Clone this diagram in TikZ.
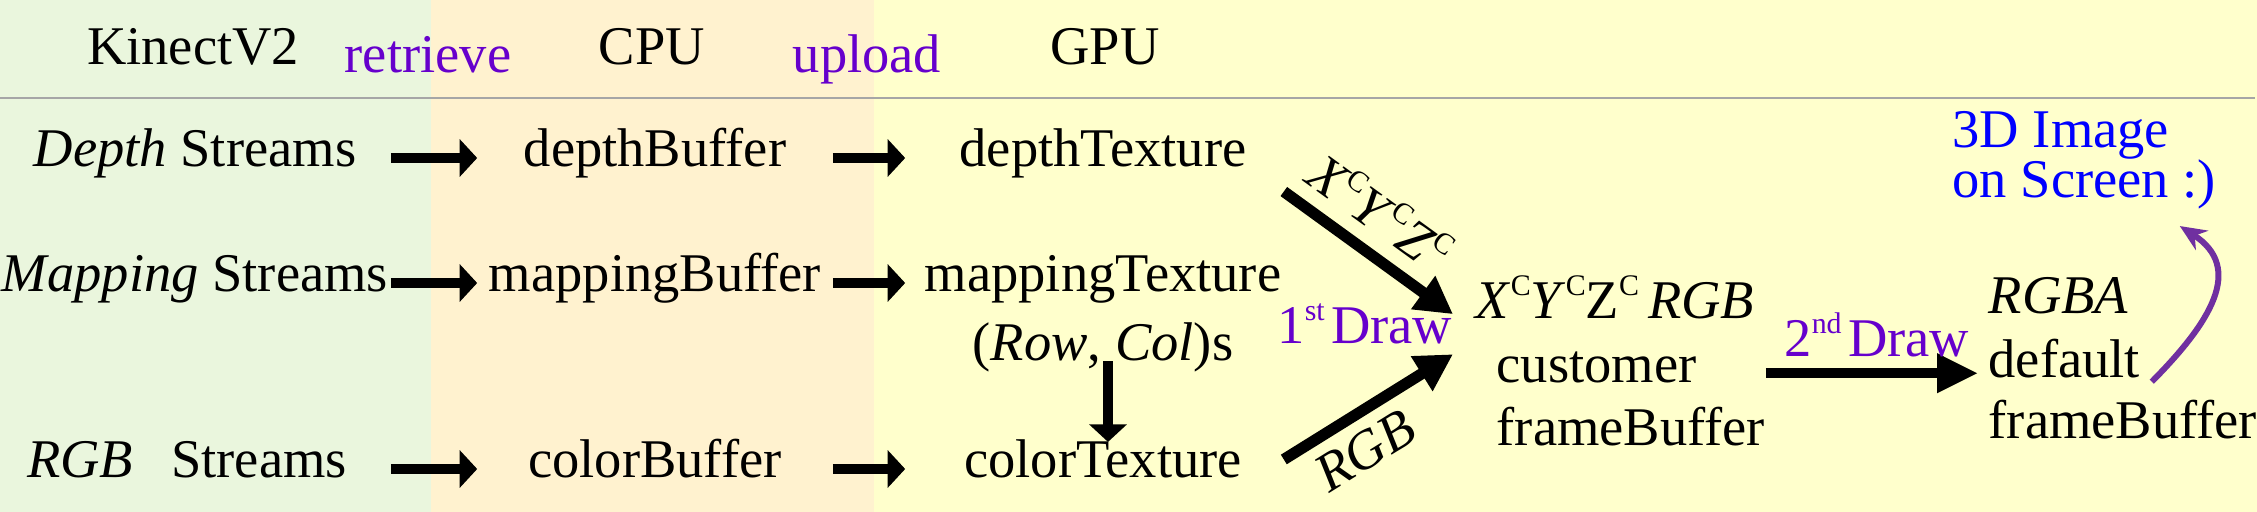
\documentclass[tikz,border=0pt]{standalone}
\usepackage{fontspec}
\setmainfont{Liberation Serif}
\usetikzlibrary{arrows.meta}
\definecolor{kinectgreen}{HTML}{EAF6DD}
\definecolor{cpuorange}{HTML}{FFF2CF}
\definecolor{gpuyellow}{HTML}{FFFFCC}
\definecolor{steppurple}{HTML}{6600CC}
\definecolor{curvepurple}{HTML}{7030A0}
\newcommand{\upx}[1]{\raisebox{0.42em}{\fontsize{8.5}{9}\selectfont #1}}
\newcommand{\xyzc}[1]{\textit{X}\upx{C}\textit{Y}\upx{C}#1\upx{C}}

\begin{document}
\begin{tikzpicture}[x=0.01cm, y=-0.01cm, font=\fontsize{15.5}{18}\selectfont]
\tikzstyle{txt}=[inner sep=0pt, text height=0.7em, text depth=0.2em]
\tikzstyle{streamcol}=[txt, minimum width=3.9cm]
\tikzstyle{buffercol}=[txt, minimum width=3.54cm]
\tikzstyle{texturecol}=[txt, minimum width=3.94cm]
\tikzstyle{stage}=[txt, text=steppurple]
\tikzstyle{push}=[-{Triangle[length=5pt,width=10.5pt]}, line width=2.85pt]
\tikzstyle{bigpush}=[-{Triangle[length=10.5pt,width=11pt]}, line width=3.2pt]

\useasboundingbox (0,0) rectangle (2257,512);
% device bands
\fill[kinectgreen] (0,0) rectangle (431,512);
\fill[cpuorange] (431,0) rectangle (874,512);
\fill[gpuyellow] (874,0) rectangle (2257,512);
\draw[line width=0.85pt, black!35] (0,98) -- (2255,98);

% header
\node[txt] (kin) at (193,56) {KinectV2};
\node[stage] (ret) at (428,64) {retrieve};
\node[txt] (cpu) at (652,56) {CPU};
\node[stage] (upl) at (867,64) {upload};
\node[txt] (gpu) at (1105,56) {GPU};

% streams, buffers, textures
\node[streamcol] (dstr) at (195,158) {\textit{Depth} Streams};
\node[streamcol] (mstr) at (195,283) {\textit{Mapping} Streams};
\node[streamcol] (rstr) at (187,469) {\textit{RGB}\hspace{0.7em}Streams};
\node[buffercol] (dbuf) at (655,158) {depthBuffer};
\node[buffercol] (mbuf) at (655,283) {mappingBuffer};
\node[buffercol] (cbuf) at (655,469) {colorBuffer};
\node[texturecol] (dtex) at (1103,158) {depthTexture};
\node[texturecol] (mtex) at (1103,283) {mappingTexture};
\node[texturecol] (ctex) at (1103,469) {colorTexture};
\node[txt] (rc) at (1103,352) {(\textit{Row}, \textit{Col})s};

\draw[push] (dstr.east) -- (dbuf.west);
\draw[push] (mstr.east) -- (mbuf.west);
\draw[push] (rstr.east -| mstr.east) -- (cbuf.west);
\draw[push] (dbuf.east) -- (dtex.west);
\draw[push] (mbuf.east) -- (mtex.west);
\draw[push] (cbuf.east) -- (ctex.west);
\draw[push, shorten <=-2pt, shorten >=3pt] ([shift={(5,0)}]rc.south) -- ([shift={(5,0)}]ctex.north);

% first draw
\node[stage, inner ysep=1pt, anchor=base east] (drw1) at (1453,343) {1\upx{st}\hspace{0.12em}Draw};
\node[txt, anchor=base west] (xyzrgb) at (1475,318) {\xyzc{Z}\,\textit{RGB}};
\node[txt, anchor=base west] (cust) at (1496,382) {customer};
\node[txt, anchor=base west] (cfb) at (1496,445) {frameBuffer};

\draw[bigpush] ([shift={(-17,17)}]dtex.south east) -- (drw1.north east)
  node[pos=0.43, above, sloped, inner sep=0.4em] {\xyzc{\textit{Z}}};
\draw[bigpush] ([shift={(-17,7)}]ctex.north east) -- (drw1.south east)
  node[pos=0.37, below, sloped] {\textit{RGB}};

% second draw
\node[txt, anchor=base west] (rgba) at (1988,313) {\textit{RGBA}};
\node[txt, anchor=base west] (dflt) at (1988,377) {default};
\node[txt, anchor=base west] (dfb) at (1988,438) {frameBuffer};
\node[inner sep=0pt, align=left, anchor=north west, text=blue,
  font=\fontsize{15.5}{14.2}\selectfont] (scr) at (1952,111) {3D Image\\on Screen :)};

\draw[-{Triangle[length=11.7pt,width=10.5pt]}, line width=2.85pt, shorten >=2.8pt]
  (cust.east -| cfb.east) -- (cust.east -| dflt.west)
  node[midway, above, stage, inner ysep=1.4pt] {2\upx{nd}\hspace{0.12em}Draw};
\draw[curvepurple, line width=1.7pt, -{Stealth[length=7.5pt,width=6.5pt]}]
  ([shift={(11,-3)}]dflt.south east) .. controls (2210,323) and (2245,268) .. ([shift={(-37,16)}]scr.south east);
\end{tikzpicture}
\end{document}
